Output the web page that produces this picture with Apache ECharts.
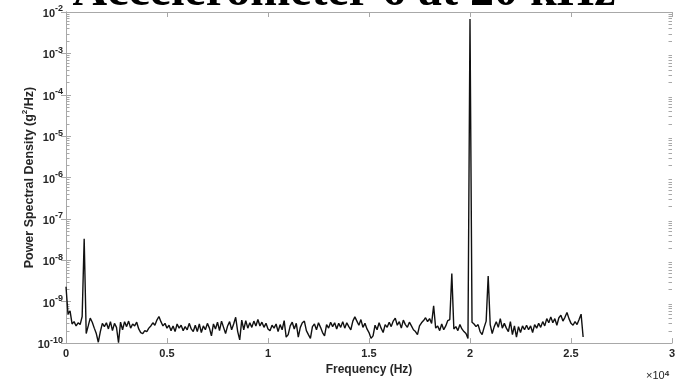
<!DOCTYPE html>
<html>
<head>
<meta charset="utf-8">
<script src="https://cdn.jsdelivr.net/npm/echarts@6/dist/echarts.min.js"></script>
<style>
  html, body { margin: 0; padding: 0; background: #fff; }
  #chart { width: 684px; height: 381px; }
</style>
</head>
<body>
<div id="chart"></div>
<script>
// PSD bins, 100 Hz apart, starting at 0 Hz
var freqStep = 100;
var psd = [
  2.3e-9, 5.0e-10, 6.0e-10, 2.9e-10, 3.3e-10, 2.6e-10, 3.1e-10, 2.8e-10, 4.4e-10, 3.3e-8,
  1.7e-10, 2.6e-10, 4.0e-10, 3.2e-10, 2.3e-10, 1.7e-10, 1.05e-10, 1.9e-10, 3.0e-10, 2.5e-10,
  3.1e-10, 2.2e-10, 3.3e-10, 2.0e-10, 3.0e-10, 2.4e-10, 1.02e-10, 3.2e-10, 2.1e-10, 3.3e-10,
  2.5e-10, 3.4e-10, 2.3e-10, 2.9e-10, 2.6e-10, 3.2e-10, 2.2e-10, 1.8e-10, 1.7e-10, 2.0e-10,
  1.9e-10, 2.3e-10, 2.6e-10, 3.1e-10, 2.7e-10, 3.6e-10, 4.4e-10, 3.3e-10, 2.6e-10, 3.0e-10,
  2.3e-10, 2.7e-10, 2.0e-10, 2.6e-10, 1.9e-10, 2.9e-10, 2.3e-10, 2.7e-10, 2.0e-10, 2.5e-10,
  2.1e-10, 3.0e-10, 2.2e-10, 1.9e-10, 2.7e-10, 1.9e-10, 2.9e-10, 1.8e-10, 2.6e-10, 2.1e-10,
  3.0e-10, 2.3e-10, 1.5e-10, 2.9e-10, 2.2e-10, 3.2e-10, 2.0e-10, 3.4e-10, 2.4e-10, 1.7e-10,
  2.6e-10, 3.3e-10, 2.1e-10, 2.9e-10, 4.2e-10, 1.9e-10, 1.2e-10, 3.6e-10, 2.1e-10, 3.5e-10,
  2.3e-10, 3.1e-10, 2.4e-10, 3.4e-10, 2.6e-10, 3.7e-10, 2.6e-10, 3.2e-10, 2.4e-10, 3.0e-10,
  2.2e-10, 2.0e-10, 2.7e-10, 2.3e-10, 2.9e-10, 1.9e-10, 2.8e-10, 2.1e-10, 3.5e-10, 1.4e-10,
  1.6e-10, 2.6e-10, 3.2e-10, 2.2e-10, 3.0e-10, 1.4e-10, 2.4e-10, 3.1e-10, 3.4e-10, 2.0e-10,
  1.6e-10, 1.3e-10, 2.5e-10, 2.9e-10, 2.1e-10, 3.1e-10, 2.4e-10, 1.8e-10, 1.5e-10, 2.8e-10,
  2.3e-10, 3.2e-10, 2.5e-10, 3.1e-10, 2.2e-10, 3.0e-10, 2.4e-10, 3.3e-10, 2.3e-10, 3.1e-10,
  2.5e-10, 2.1e-10, 3.4e-10, 4.3e-10, 3.4e-10, 2.7e-10, 3.7e-10, 2.4e-10, 3.0e-10, 2.2e-10,
  1.8e-10, 1.3e-10, 1.5e-10, 2.7e-10, 2.1e-10, 3.1e-10, 2.3e-10, 1.8e-10, 2.8e-10, 2.4e-10,
  3.2e-10, 2.5e-10, 3.4e-10, 4.0e-10, 2.7e-10, 3.3e-10, 2.3e-10, 3.6e-10, 2.8e-10, 2.4e-10,
  3.2e-10, 2.6e-10, 2.1e-10, 1.9e-10, 1.6e-10, 2.6e-10, 3.1e-10, 3.5e-10, 4.1e-10, 3.3e-10,
  3.9e-10, 3.0e-10, 8.0e-10, 2.3e-10, 2.6e-10, 2.0e-10, 2.9e-10, 2.1e-10, 2.6e-10, 3.5e-10,
  3.7e-10, 4.8e-9, 2.2e-10, 2.5e-10, 2.0e-10, 2.8e-10, 2.2e-10, 1.9e-10, 1.7e-10, 1.3e-10,
  6.8e-3, 3.2e-10, 2.9e-10, 2.5e-10, 2.8e-10, 1.9e-10, 1.6e-10, 2.4e-10, 3.4e-10, 4.2e-9,
  2.8e-10, 1.7e-10, 2.5e-10, 3.3e-10, 2.4e-10, 3.9e-10, 2.3e-10, 3.0e-10, 2.3e-10, 1.9e-10,
  3.3e-10, 1.6e-10, 2.6e-10, 1.4e-10, 2.5e-10, 1.8e-10, 2.6e-10, 2.1e-10, 2.7e-10, 2.1e-10,
  2.6e-10, 1.8e-10, 2.8e-10, 2.3e-10, 3.0e-10, 2.4e-10, 3.3e-10, 2.6e-10, 3.9e-10, 3.1e-10,
  4.3e-10, 3.1e-10, 3.9e-10, 2.7e-10, 4.1e-10, 4.7e-10, 3.4e-10, 4.2e-10, 5.5e-10, 3.9e-10,
  3.0e-10, 2.7e-10, 3.3e-10, 2.8e-10, 3.7e-10, 5.0e-10, 1.4e-10
];

var xMin = 0, xMax = 30000, xStep = 5000;
var yMin = 1e-10, yMax = 1e-2;
var minorMantissa = [2, 3, 4, 5, 6, 7, 8, 9];

var lineData = psd.map(function (v, i) { return [i * freqStep, v]; });

// log minor ticks, drawn on both the left and right edges of the box
var minorTicks = [];
for (var e = -10; e < -2; e++) {
    minorMantissa.forEach(function (m) {
        var v = m * Math.pow(10, e);
        minorTicks.push([xMin, v, 1]);
        minorTicks.push([xMax, v, -1]);
    });
}

var axisGrey = '#a8a8a8';
var textCol = '#262626';
var font = 'Liberation Sans, Arial, sans-serif';

function powLabel(v) {
    var ex = Math.round(Math.log10(v));
    return '{b|10}{s|' + ex + '}';
}

var labelRich = {
    b: { fontSize: 11, fontWeight: 'bold', color: textCol, fontFamily: font, verticalAlign: 'bottom', lineHeight: 15 },
    s: { fontSize: 9, fontWeight: 'bold', color: textCol, fontFamily: font, verticalAlign: 'top', lineHeight: 9 }
};

var option = {
    animation: false,
    backgroundColor: '#fff',
    grid: { left: 66, right: 12, top: 12, bottom: 35 },
    graphic: [
        {
            type: 'text',
            z: 100,
            style: {
                text: 'Accelerometer 6 at 20 kHz',
                x: 344, y: -31,
                textAlign: 'center',
                textVerticalAlign: 'top',
                font: 'bold 48px "Liberation Serif", "Times New Roman", serif',
                fill: '#000'
            }
        },
        {
            type: 'text',
            style: {
                text: '×10{s|4}',
                x: 646, y: 381,
                textVerticalAlign: 'bottom',
                font: '11px ' + font,
                fill: textCol,
                rich: {
                    s: { fontSize: 8, fontWeight: 'bold', fill: textCol, verticalAlign: 'top', lineHeight: 8 }
                }
            }
        }
    ],
    xAxis: [
        {
            type: 'value', min: xMin, max: xMax, interval: xStep,
            name: 'Frequency (Hz)', nameLocation: 'middle', nameGap: 19,
            nameTextStyle: { fontSize: 12, fontWeight: 'bold', color: textCol, fontFamily: font },
            axisLine: { lineStyle: { color: axisGrey, width: 1 } },
            axisTick: { inside: true, length: 5, lineStyle: { color: axisGrey } },
            axisLabel: {
                margin: 5, fontSize: 11, fontWeight: 'bold', color: textCol, fontFamily: font,
                formatter: function (v) { return String(v / 10000); }
            },
            splitLine: { show: false }
        },
        {
            type: 'value', position: 'top', min: xMin, max: xMax, interval: xStep,
            axisLine: { lineStyle: { color: axisGrey, width: 1 } },
            axisTick: { inside: true, length: 5, lineStyle: { color: axisGrey } },
            axisLabel: { show: false },
            splitLine: { show: false }
        }
    ],
    yAxis: [
        {
            type: 'log', logBase: 10, min: yMin, max: yMax, splitNumber: 8,
            name: '{b|Power Spectral Density (g}{s|2}{b|/Hz)}',
            nameLocation: 'middle', nameRotate: 90, nameGap: 30,
            nameMoveOverlap: false,
            nameTextStyle: {
                rich: {
                    b: { fontSize: 12.5, fontWeight: 'bold', color: textCol, fontFamily: font, verticalAlign: 'bottom', lineHeight: 15 },
                    s: { fontSize: 8, fontWeight: 'bold', color: textCol, fontFamily: font, verticalAlign: 'top', lineHeight: 8 }
                }
            },
            axisLine: { show: true, lineStyle: { color: axisGrey, width: 1 } },
            axisTick: { inside: true, length: 5, lineStyle: { color: axisGrey } },
            axisLabel: { margin: 3, formatter: powLabel, rich: labelRich },
            splitLine: { show: false }
        },
        {
            type: 'log', logBase: 10, min: yMin, max: yMax, splitNumber: 8, position: 'right',
            axisLine: { show: true, lineStyle: { color: axisGrey, width: 1 } },
            axisTick: { inside: true, length: 5, lineStyle: { color: axisGrey } },
            axisLabel: { show: false },
            splitLine: { show: false }
        }
    ],
    series: [
        {
            type: 'custom',
            silent: true,
            clip: false,
            data: minorTicks,
            encode: { x: 0, y: 1 },
            renderItem: function (params, api) {
                var p = api.coord([api.value(0), api.value(1)]);
                var dir = api.value(2);
                var y = Math.round(p[1]) + 0.5;
                return {
                    type: 'line',
                    shape: { x1: p[0], y1: y, x2: p[0] + dir * 3.5, y2: y },
                    style: { stroke: axisGrey, lineWidth: 1 }
                };
            },
            z: 1
        },
        {
            type: 'line',
            data: lineData,
            showSymbol: false,
            symbol: 'none',
            lineStyle: { color: '#111', width: 1.4 },
            z: 3
        }
    ]
};

var chart = echarts.init(document.getElementById('chart'));
chart.setOption(option);
</script>
</body>
</html>
